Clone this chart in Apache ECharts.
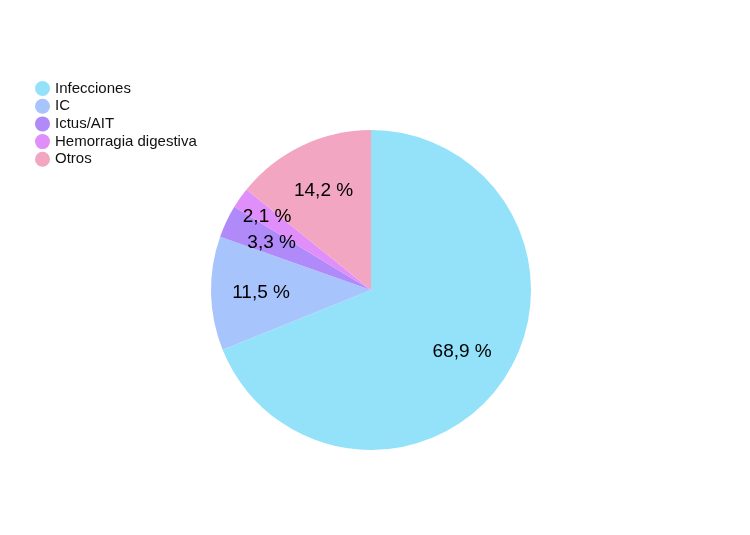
<!DOCTYPE html>
<html><head><meta charset="utf-8">
<script src="https://cdn.jsdelivr.net/npm/echarts@6/dist/echarts.min.js"></script>
<style>html,body{margin:0;padding:0;background:#fff}#c{width:750px;height:535px}</style>
</head><body><div id="c"></div>
<script>
const categories = ['Infecciones', 'IC', 'Ictus/AIT', 'Hemorragia digestiva', 'Otros'];
const values = [68.9, 11.5, 3.3, 2.1, 14.2];
const colors = ['#93E2FA', '#A8C4FC', '#B18AF9', '#E08EF9', '#F2A6C1'];

const chart = echarts.init(document.getElementById('c'));
const fmt = p => p.value.toFixed(1).replace('.', ',') + ' %';
const farLabel = 'Hemorragia digestiva';
const mainData = categories.map((n, i) => ({ name: n, value: values[i], itemStyle: { color: colors[i] } }));
const labelData = (far) => categories.map((n, i) => ({
  name: n, value: values[i], itemStyle: { color: 'rgba(0,0,0,0)' },
  label: { show: (n === farLabel) === far }
}));
const labelSeries = (r, far) => ({
  type: 'pie', center: [371, 290], radius: [0, r], startAngle: 90, clockwise: true,
  silent: true, labelLine: { show: false }, avoidLabelOverlap: false,
  labelLayout: { hideOverlap: false },
  label: { position: 'inside', formatter: fmt, fontSize: 19, color: '#000',
    fontFamily: 'Liberation Sans, Arial, sans-serif' },
  itemStyle: { borderWidth: 0 }, data: labelData(far)
});
chart.setOption({
  animation: false,
  legend: {
    orient: 'vertical', left: 30, top: 76,
    icon: 'circle', itemWidth: 15, itemHeight: 15, itemGap: 2.7,
    textStyle: { fontSize: 15, color: '#111', fontFamily: 'Liberation Sans, Arial, sans-serif' },
    data: categories
  },
  series: [
    {
      type: 'pie', center: [371, 290], radius: [0, 160], startAngle: 90, clockwise: true,
      label: { show: false }, labelLine: { show: false }, silent: true,
      itemStyle: { borderWidth: 0 }, data: mainData
    },
    labelSeries(214, false),
    labelSeries(248, true)
  ]
});
</script></body></html>
